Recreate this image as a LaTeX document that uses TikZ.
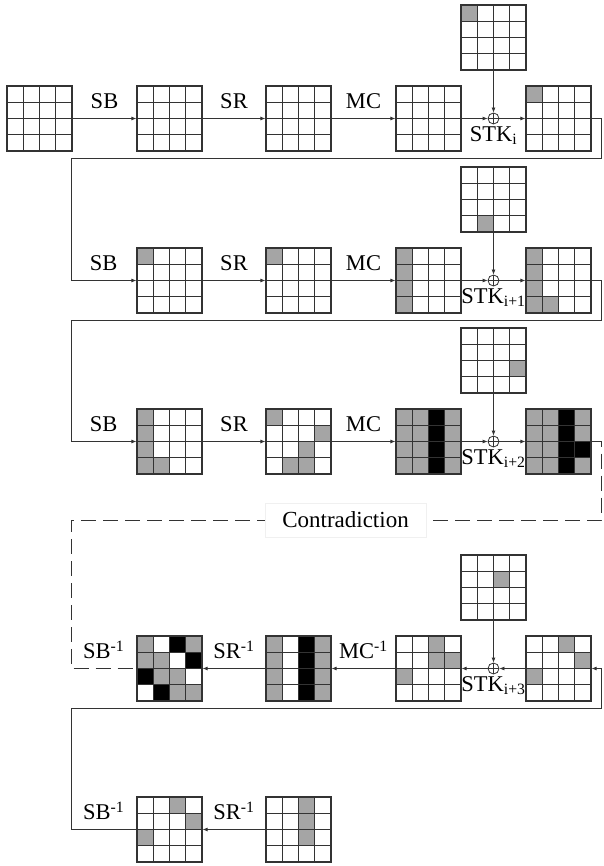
\documentclass[tikz,border=0pt]{standalone}
\usepackage{fontspec}
\setmainfont{Liberation Serif}
\usetikzlibrary{arrows.meta,positioning}
\definecolor{cg}{RGB}{165,165,165}
\definecolor{ck}{RGB}{0,0,0}

% 4x4 state: name, left, top, coloured cells (row/col/colour)
\newcommand{\stategrid}[4]{%
  \foreach \r/\c/\f in {#4}
    \fill[fill=\f] ({#2+(\c-1)*16.25},{#3+(\r-1)*16.25}) rectangle ++(16.25,16.25);
  \foreach \k in {1,2,3} {
    \draw[cellline] ({#2+\k*16.25},#3) -- ++(0,65);
    \draw[cellline] (#2,{#3+\k*16.25}) -- ++(65,0);
  }
  \node[gridbox] (#1) at ({#2+32.5},{#3+32.5}) {};
}

\begin{document}
\begin{tikzpicture}[x=1pt, y=-1pt,
    cellline/.style={draw=black!80, line width=1.2pt},
    gridbox/.style={draw=black!80, line width=1.2pt, minimum size=65pt, inner sep=0pt},
    flow/.style={draw=black!80, line width=0.8pt, -{Latex[length=5pt,width=4pt]}},
    dashline/.style={draw=black!80, line width=0.8pt, dash pattern=on 15pt off 7pt},
    xorop/.style={circle, draw=black!80, line width=0.8pt, minimum size=11pt, inner sep=0pt,
      path picture={\draw[black!80, line width=0.8pt] (path picture bounding box.north) -- (path picture bounding box.south)
        (path picture bounding box.west) -- (path picture bounding box.east);}},
    lbl/.style={font=\fontsize{22.5}{26}\selectfont, inner sep=0pt},
    ctr/.style={font=\fontsize{23}{26}\selectfont, fill=white, draw=black!6, minimum width=161pt, minimum height=34pt}]
    \useasboundingbox (0,0) rectangle (603,866);

    % Round i
    \stategrid{a1}{7}{86}{1/1/white}
    \stategrid{a2}{137}{86}{1/1/white}
    \stategrid{a3}{266}{86}{1/1/white}
    \stategrid{a4}{396}{86}{1/1/white}
    \stategrid{a5}{526}{86}{1/1/cg}
    \stategrid{ka}{461}{5}{1/1/cg}
    \node[xorop] (xa) at (493.5,118.5) {};
    \node[lbl, below=2pt of xa] (sa) {STK\textsubscript{i}};
    \draw[flow] (a1) -- node[lbl, above=9pt] (sba) {SB} (a2);
    \draw[flow] (a2) -- node[lbl, above=9pt] (sra) {SR} (a3);
    \draw[flow] (a3) -- node[lbl, above=9pt] (mca) {MC} (a4);
    \draw[flow] (a4) -- (xa);
    \draw[flow] (xa) -- (a5);
    \draw[flow] (ka) -- (xa);

    % Round i+1
    \coordinate (ra) at (601.5,158);
    \coordinate (la) at (71,158);
    \stategrid{b2}{137}{248}{1/1/cg}
    \stategrid{b3}{266}{248}{1/1/cg}
    \stategrid{b4}{396}{248}{1/1/cg,2/1/cg,3/1/cg,4/1/cg}
    \stategrid{b5}{526}{248}{1/1/cg,2/1/cg,3/1/cg,4/1/cg,4/2/cg}
    \stategrid{kb}{461}{167}{4/2/cg}
    \node[xorop] (xb) at (493.5,280.5) {};
    \node[lbl, below=2pt of xb] (sb) {STK\textsubscript{i+1}};
    \draw[flow] (a5.east) -| (ra) -- (la) |- node[pos=0.75, lbl, above=9pt] (sbb) {SB} (b2.west);
    \draw[flow] (b2) -- node[lbl, above=9pt] (srb) {SR} (b3);
    \draw[flow] (b3) -- node[lbl, above=9pt] (mcb) {MC} (b4);
    \draw[flow] (b4) -- (xb);
    \draw[flow] (xb) -- (b5);
    \draw[flow] (kb) -- (xb);

    % Round i+2
    \coordinate (rb) at (601.5,320);
    \coordinate (lb) at (71,320);
    \stategrid{c2}{137}{409}{1/1/cg,2/1/cg,3/1/cg,4/1/cg,4/2/cg}
    \stategrid{c3}{266}{409}{1/1/cg,2/4/cg,3/3/cg,4/2/cg,4/3/cg}
    \stategrid{c4}{396}{409}{1/1/cg,2/1/cg,3/1/cg,4/1/cg,1/2/cg,2/2/cg,3/2/cg,4/2/cg,
      1/3/ck,2/3/ck,3/3/ck,4/3/ck,1/4/cg,2/4/cg,3/4/cg,4/4/cg}
    \stategrid{c5}{526}{409}{1/1/cg,2/1/cg,3/1/cg,4/1/cg,1/2/cg,2/2/cg,3/2/cg,4/2/cg,
      1/3/ck,2/3/ck,3/3/ck,4/3/ck,1/4/cg,2/4/cg,3/4/ck,4/4/cg}
    \stategrid{kc}{461}{328}{3/4/cg}
    \node[xorop] (xc) at (493.5,441.5) {};
    \node[lbl, below=2pt of xc] (sc) {STK\textsubscript{i+2}};
    \draw[flow] (b5.east) -| (rb) -- (lb) |- node[pos=0.75, lbl, above=9pt] (sbc) {SB} (c2.west);
    \draw[flow] (c2) -- node[lbl, above=9pt] (src) {SR} (c3);
    \draw[flow] (c3) -- node[lbl, above=9pt] (mcc) {MC} (c4);
    \draw[flow] (c4) -- (xc);
    \draw[flow] (xc) -- (c5);
    \draw[flow] (kc) -- (xc);

    % Backwards from round i+4
    \coordinate (rc) at (601.5,520);
    \coordinate (lc) at (71,520);
    \coordinate (rd) at (601.5,708);
    \coordinate (ld) at (71,708);
    \stategrid{d2}{137}{636}{1/1/cg,1/3/ck,1/4/cg,2/1/cg,2/2/cg,2/4/ck,3/1/ck,3/2/cg,3/3/cg,4/2/ck,4/3/cg,4/4/cg}
    \stategrid{d3}{266}{636}{1/1/cg,2/1/cg,3/1/cg,4/1/cg,1/3/ck,2/3/ck,3/3/ck,4/3/ck,1/4/cg,2/4/cg,3/4/cg,4/4/cg}
    \stategrid{d4}{396}{636}{1/3/cg,2/3/cg,2/4/cg,3/1/cg}
    \stategrid{d5}{526}{636}{1/3/cg,2/4/cg,3/1/cg}
    \stategrid{kd}{461}{555}{2/3/cg}
    \node[xorop] (xd) at (493.5,668.5) {};
    \node[lbl, below=2pt of xd] (sd) {STK\textsubscript{i+3}};
    \draw[flow] (d5) -- (xd);
    \draw[flow] (kd) -- (xd);
    \draw[flow] (xd) -- (d4);
    \draw[flow] (d4) -- node[lbl, above=9pt] (mcd) {MC\textsuperscript{-1}} (d3);
    \draw[flow] (d3) -- node[lbl, above=9pt] (srd) {SR\textsuperscript{-1}} (d2);
    \draw[dashline] (c5.east) -| (rc) -- (lc) |- node[pos=0.75, lbl, above=9pt] (sbd) {SB\textsuperscript{-1}} (d2.west);
    \node[ctr] (contra) at (345.5,520) {Contradiction};

    \stategrid{e2}{137}{797}{1/3/cg,2/4/cg,3/1/cg}
    \stategrid{e3}{266}{797}{1/3/cg,2/3/cg,3/3/cg}
    \draw[flow] (e3) -- node[lbl, above=9pt] (sre) {SR\textsuperscript{-1}} (e2);
    \draw[flow] (e2.west) -| node[pos=0.25, lbl, above=9pt] (sbe) {SB\textsuperscript{-1}} (ld) -- (rd) |- (d5.east);
\end{tikzpicture}
\end{document}
